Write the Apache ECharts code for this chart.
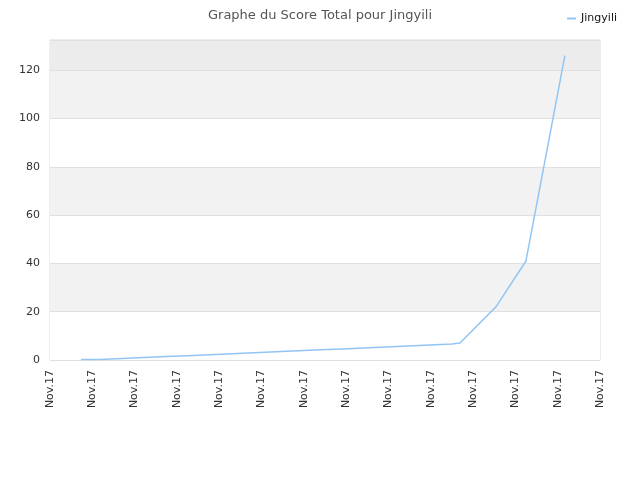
<!DOCTYPE html>
<html>
<head>
<meta charset="utf-8">
<script src="https://cdn.jsdelivr.net/npm/echarts@6/dist/echarts.min.js"></script>
<style>
  html, body { margin: 0; padding: 0; background: #fff; }
  #chart { width: 640px; height: 480px; }
</style>
</head>
<body>
<div id="chart"></div>
<script>
// data (x in tick units, one tick = one "Nov.17" label)
var serieName = 'Jingyili';
var xTickLabels = ['Nov.17', 'Nov.17', 'Nov.17', 'Nov.17', 'Nov.17', 'Nov.17', 'Nov.17',
    'Nov.17', 'Nov.17', 'Nov.17', 'Nov.17', 'Nov.17', 'Nov.17', 'Nov.17'];
var stepX = [0.73, 1.18, 1.70, 2.22, 2.74, 3.26, 3.78, 4.30, 4.82, 5.34, 5.86, 6.38,
    6.90, 7.42, 7.94, 8.46, 8.98, 9.50, 9.69];
var stepScore = [0.2, 0.6, 1.0, 1.4, 1.8, 2.2, 2.6, 3.0, 3.4, 3.8, 4.2, 4.6, 5.0, 5.4,
    5.8, 6.2, 6.6, 7.0];
var tailX = [10.54, 11.25, 12.17];
var tailScore = [22, 41, 126];

// construit la ligne en escalier puis la montée finale
var points = [];
for (var i = 0; i < stepScore.length; i++) {
    points.push([stepX[i], stepScore[i]]);
    points.push([stepX[i + 1], stepScore[i]]);
}
for (var j = 0; j < tailX.length; j++) {
    points.push([tailX[j], tailScore[j]]);
}

var chartOption = {
    animation: false,
    textStyle: {
        fontFamily: 'DejaVu Sans',
    },
    title: {
        text: 'Graphe du Score Total pour ' + serieName,
        left: 'center',
        top: 4,
        textStyle: {
            fontSize: 13,
            fontWeight: 'normal',
            color: '#555',
        },
    },
    legend: {
        data: [serieName],
        right: 18,
        top: 8,
        icon: 'rect',
        itemWidth: 9,
        itemHeight: 2,
        itemGap: 5,
        textStyle: {
            fontSize: 11,
            color: '#111',
        },
    },
    grid: {
        left: 50,
        right: 40,
        top: 40,
        bottom: 120,
        show: true,
        borderColor: '#dcdcdc',
        borderWidth: 1,
    },
    xAxis: {
        type: 'value',
        min: 0,
        max: 13,
        interval: 1,
        axisLine: { show: false },
        axisTick: { show: false },
        splitLine: { show: false },
        axisLabel: {
            rotate: 90,
            fontSize: 11,
            color: '#333',
            margin: 10,
            showMaxLabel: true,
            showMinLabel: true,
            formatter: function (v) {
                return xTickLabels[Math.round(v)];
            },
        },
    },
    yAxis: {
        type: 'value',
        min: 0,
        max: 132.5,
        interval: 20,
        axisLine: { show: false },
        axisTick: { show: false },
        axisLabel: {
            fontSize: 11,
            color: '#333',
            margin: 10,
            showMaxLabel: false,
        },
        splitLine: {
            lineStyle: { color: '#e0e0e0', width: 1 },
        },
        splitArea: {
            show: true,
            areaStyle: {
                color: ['#ffffff', '#f2f2f2', '#ffffff', '#f2f2f2', '#ffffff', '#f2f2f2', '#ececec'],
            },
        },
    },
    series: [{
        name: serieName,
        type: 'line',
        data: points,
        showSymbol: false,
        smooth: false,
        color: '#92c5f5',
        lineStyle: {
            width: 1.5,
            color: '#92c5f5',
        },
    }]
};

var scoreChart = echarts.init(document.getElementById('chart'));
scoreChart.setOption(chartOption);
</script>
</body>
</html>
